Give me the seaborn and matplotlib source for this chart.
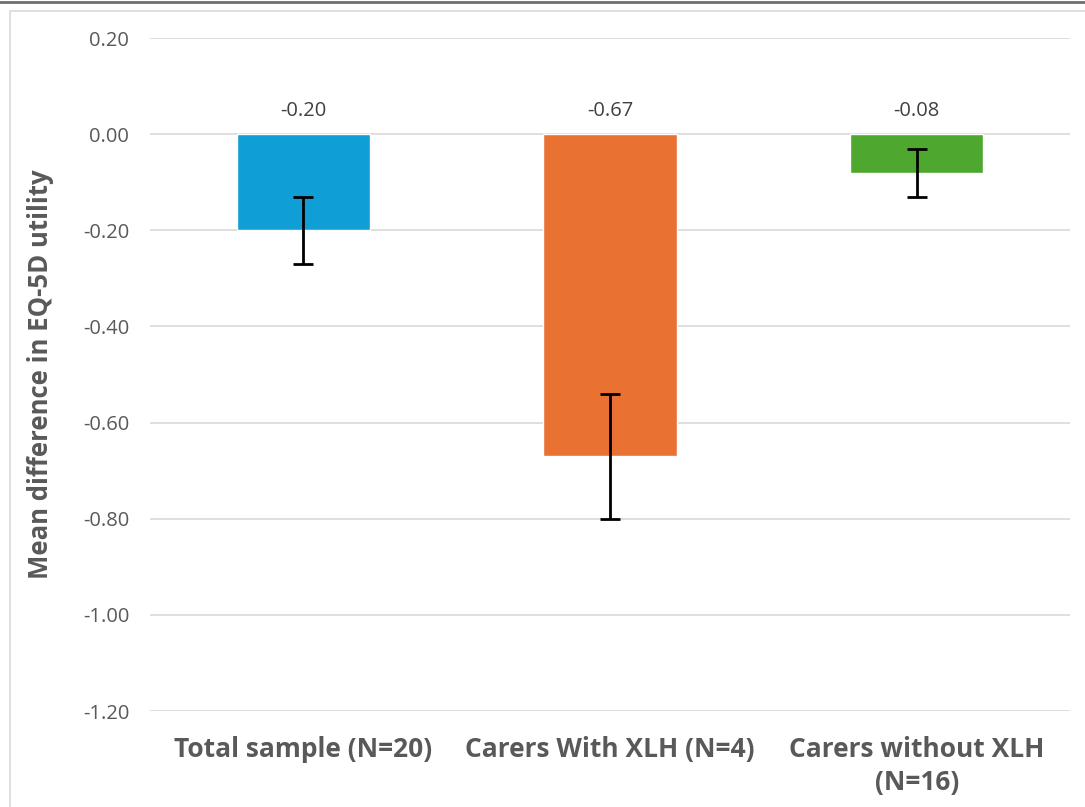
import matplotlib
matplotlib.use('Agg')
import matplotlib.pyplot as plt
import seaborn as sns
import pandas as pd
from matplotlib.patches import Rectangle
from matplotlib.lines import Line2D

# data
groups = ['Total sample (N=20)', 'Carers With XLH (N=4)', 'Carers without XLH\n(N=16)']
mean_diff = [-0.20, -0.67, -0.08]
err = [0.07, 0.13, 0.05]
colors = ['#0F9ED5', '#E97132', '#4EA72E']
yticks = [0.20, 0.00, -0.20, -0.40, -0.60, -0.80, -1.00, -1.20]

df = pd.DataFrame({'group': groups, 'diff': mean_diff})

sns.set_style('white')
plt.rcParams['font.family'] = ['Open Sans', 'DejaVu Sans']

fig = plt.figure(figsize=(10.85, 8.07), dpi=100)
ax = fig.add_axes([150 / 1085, 1 - 711 / 807, 920 / 1085, (711 - 38) / 807])

sns.barplot(data=df, x='group', y='diff', hue='group', palette=colors,
            legend=False, width=0.435, saturation=1, ax=ax, zorder=2)

ax.errorbar(range(len(groups)), mean_diff, yerr=err, fmt='none',
            ecolor='black', elinewidth=2, capsize=7, capthick=2, zorder=3)

# value labels above zero line
for i, v in enumerate(mean_diff):
    ax.text(i, 0.048, f'{v:.2f}', ha='center', va='center', fontsize=14.5, color='#404040')

ax.set_ylim(-1.2, 0.2)
ax.set_xlim(-0.5, 2.5)
ax.set_yticks(yticks)
ax.set_yticklabels([f'{t:.2f}' for t in yticks], fontsize=14.5, color='#595959')
ax.tick_params(axis='y', length=0, pad=15)
ax.tick_params(axis='x', length=0, pad=18)
for lab in ax.get_xticklabels():
    lab.set_fontsize(19)
    lab.set_fontweight('bold')
    lab.set_color('#595959')
    lab.set_linespacing(1.3)
ax.yaxis.grid(True, color='#D9D9D9', linewidth=1.2, zorder=0)
ax.set_axisbelow(True)
for s in ax.spines.values():
    s.set_visible(False)

ax.set_xlabel('')
ax.set_ylabel('Mean difference in EQ-5D utility', fontsize=18.5, fontweight='bold',
              color='#595959')
ax.yaxis.set_label_coords(-96 / 920, 0.5)

# chart frame like the original export
fig.add_artist(Rectangle((10 / 1085, -0.05), 1.1, 1 - 11 / 807 + 0.05,
                         transform=fig.transFigure, fill=False,
                         edgecolor='#D9D9D9', linewidth=1.2))
fig.add_artist(Line2D([0, 1], [1 - 1.5 / 807, 1 - 1.5 / 807], transform=fig.transFigure,
                      color='#707070', linewidth=2))

fig.savefig('out.png', dpi=100)
